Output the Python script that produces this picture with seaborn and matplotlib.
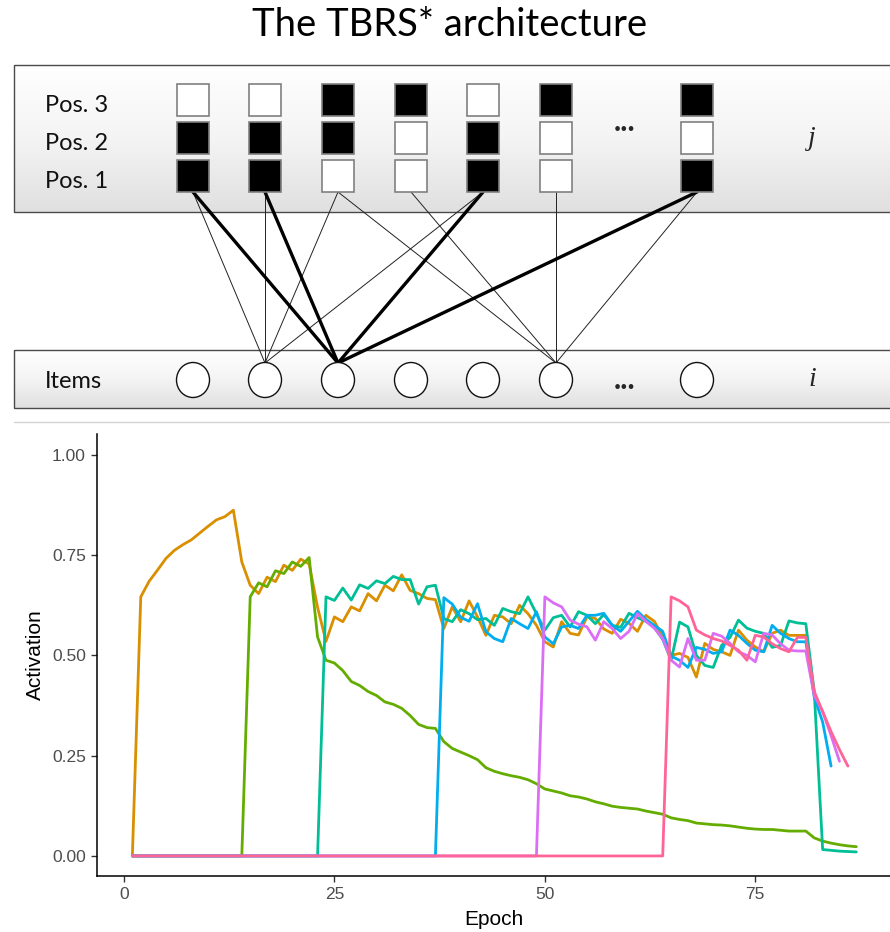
import numpy as np
import pandas as pd
import matplotlib
matplotlib.use("Agg")
import matplotlib.pyplot as plt
import seaborn as sns
from matplotlib.patches import Rectangle, Ellipse
from matplotlib.colors import LinearSegmentedColormap

# ---------------- data ----------------
epochs = list(range(1, 88))

item1 = [0.000, 0.646, 0.685, 0.713, 0.742, 0.762, 0.776, 0.788, 0.805, 0.822,
         0.838, 0.846, 0.862, 0.733, 0.675, 0.654, 0.695, 0.684, 0.725, 0.712,
         0.740, 0.728, 0.620, 0.535, 0.596, 0.584, 0.621, 0.611, 0.654, 0.636,
         0.675, 0.661, 0.701, 0.662, 0.654, 0.642, 0.639, 0.567, 0.621, 0.584,
         0.636, 0.596, 0.550, 0.600, 0.596, 0.579, 0.625, 0.604, 0.575, 0.534,
         0.521, 0.584, 0.555, 0.551, 0.596, 0.592, 0.566, 0.555, 0.590, 0.580,
         0.560, 0.600, 0.585, 0.548, 0.500, 0.505, 0.495, 0.446, 0.530, 0.515,
         0.509, 0.500, 0.563, 0.538, 0.521, 0.509, 0.555, 0.563, 0.550, 0.550,
         0.550, 0.405]

item2 = [0, 0, 0, 0, 0, 0, 0, 0, 0, 0, 0, 0, 0, 0,
         0.646, 0.681, 0.671, 0.711, 0.704, 0.733, 0.722, 0.744, 0.546, 0.488,
         0.481, 0.462, 0.435, 0.425, 0.410, 0.400, 0.384, 0.378, 0.368, 0.350,
         0.328, 0.320, 0.318, 0.285, 0.268, 0.259, 0.250, 0.240, 0.220, 0.211,
         0.205, 0.200, 0.196, 0.190, 0.180, 0.167, 0.162, 0.157, 0.150, 0.147,
         0.142, 0.135, 0.130, 0.124, 0.121, 0.119, 0.117, 0.112, 0.108, 0.104,
         0.095, 0.091, 0.088, 0.082, 0.080, 0.078, 0.077, 0.075, 0.072, 0.069,
         0.067, 0.066, 0.066, 0.064, 0.062, 0.062, 0.062, 0.045, 0.037, 0.032,
         0.028, 0.025, 0.023]

item3 = [0, 0, 0, 0, 0, 0, 0, 0, 0, 0, 0, 0, 0, 0, 0, 0, 0, 0, 0, 0, 0, 0, 0,
         0.646, 0.637, 0.668, 0.638, 0.676, 0.667, 0.686, 0.679, 0.697, 0.689,
         0.689, 0.628, 0.671, 0.675, 0.592, 0.584, 0.614, 0.604, 0.589, 0.592,
         0.575, 0.617, 0.609, 0.604, 0.646, 0.604, 0.563, 0.594, 0.600, 0.571,
         0.609, 0.600, 0.579, 0.602, 0.575, 0.570, 0.605, 0.594, 0.585, 0.570,
         0.540, 0.488, 0.583, 0.571, 0.500, 0.475, 0.470, 0.525, 0.545, 0.588,
         0.568, 0.560, 0.555, 0.520, 0.525, 0.586, 0.581, 0.579, 0.410, 0.016,
         0.014, 0.012, 0.011, 0.010]

item4 = [0, 0, 0, 0, 0, 0, 0, 0, 0, 0, 0, 0, 0, 0, 0, 0, 0, 0, 0, 0,
         0, 0, 0, 0, 0, 0, 0, 0, 0, 0, 0, 0, 0, 0, 0, 0, 0,
         0.644, 0.628, 0.595, 0.585, 0.629, 0.559, 0.542, 0.534, 0.592, 0.579,
         0.567, 0.609, 0.546, 0.529, 0.571, 0.575, 0.567, 0.600, 0.600, 0.605,
         0.575, 0.560, 0.585, 0.610, 0.590, 0.575, 0.560, 0.498, 0.488, 0.470,
         0.520, 0.515, 0.505, 0.509, 0.563, 0.550, 0.530, 0.513, 0.509, 0.575,
         0.555, 0.542, 0.534, 0.534, 0.396, 0.334, 0.224]

item5 = [0, 0, 0, 0, 0, 0, 0, 0, 0, 0, 0, 0, 0, 0, 0, 0, 0, 0, 0, 0,
         0, 0, 0, 0, 0, 0, 0, 0, 0, 0, 0, 0, 0, 0, 0, 0, 0, 0, 0, 0,
         0, 0, 0, 0, 0, 0, 0, 0, 0,
         0.646, 0.631, 0.621, 0.588, 0.578, 0.571, 0.538, 0.584, 0.567, 0.542,
         0.560, 0.604, 0.585, 0.568, 0.542, 0.488, 0.471, 0.542, 0.488, 0.488,
         0.555, 0.548, 0.530, 0.509, 0.500, 0.484, 0.555, 0.551, 0.529, 0.513,
         0.511, 0.511, 0.400, 0.360, 0.300, 0.236]

item6 = [0, 0, 0, 0, 0, 0, 0, 0, 0, 0, 0, 0, 0, 0, 0, 0, 0, 0, 0, 0,
         0, 0, 0, 0, 0, 0, 0, 0, 0, 0, 0, 0, 0, 0, 0, 0, 0, 0, 0, 0,
         0, 0, 0, 0, 0, 0, 0, 0, 0, 0, 0, 0, 0, 0, 0, 0, 0, 0, 0, 0,
         0, 0, 0, 0,
         0.646, 0.636, 0.621, 0.563, 0.551, 0.542, 0.536, 0.525, 0.513, 0.488,
         0.550, 0.546, 0.529, 0.517, 0.509, 0.545, 0.545, 0.410, 0.360, 0.310,
         0.265, 0.224]

series_names = ["1", "2", "3", "4", "5", "6"]
series_values = [item1, item2, item3, item4, item5, item6]
series_colors = ["#D98F00", "#64AD00", "#00BE96", "#00AEEF", "#DC6EF5", "#FF6496"]

x_ticks = [0, 25, 50, 75]
y_ticks = [0.00, 0.25, 0.50, 0.75, 1.00]

# diagram content
pos_labels = ["Pos. 3", "Pos. 2", "Pos. 1"]
pattern = [[0, 0, 1, 1, 0, 1, 1],   # Pos. 3
           [1, 1, 1, 0, 1, 0, 0],   # Pos. 2
           [1, 1, 0, 0, 1, 0, 1]]   # Pos. 1
thick_links = [(0, 2), (1, 2), (4, 2), (6, 2)]
thin_links = [(0, 1), (1, 1), (2, 1), (4, 1), (2, 5), (3, 5), (5, 5), (6, 5)]

# ---------------- frame ----------------
rows = []
for name, vals in zip(series_names, series_values):
    for e, v in zip(epochs, vals):
        rows.append({"Epoch": e, "Activation": v, "item": name})
df = pd.DataFrame(rows)

sns.set_style("ticks")
plt.rcParams["font.family"] = ["Liberation Sans", "DejaVu Sans"]

W, H = 890, 932
fig = plt.figure(figsize=(W / 100, H / 100), dpi=100)

# ---------------- diagram (pixel space) ----------------
dax = fig.add_axes([0, 0, 1, 1], zorder=0)
grad_cmap = LinearSegmentedColormap.from_list("g", ["#ffffff", "#f4f4f4", "#e0e0e0"])


def grad_box(x0, y0, x1, y1):
    g = np.linspace(0, 1, 200).reshape(-1, 1)
    dax.imshow(g, extent=(x0, x1, y1, y0), cmap=grad_cmap, aspect="auto",
               interpolation="bilinear", zorder=1)
    dax.add_patch(Rectangle((x0, y0), x1 - x0, y1 - y0, fill=False,
                            ec="#4a4a4a", lw=1.0, zorder=2))


grad_box(14, 65, 900, 212)
grad_box(14, 350, 900, 408)
dax.plot([14, 890], [422, 422], color="#d4d4d4", lw=1.0, zorder=2)

col_x = [193, 265, 338, 411, 483, 556, 697]
row_top = [84, 122, 160]
sq_w, sq_h = 32, 32
circ_y = 380

for (ci, ki) in thin_links:
    dax.plot([col_x[ci], col_x[ki]], [192, 363], color="#222222", lw=0.7,
             zorder=3, solid_capstyle="round")
for (ci, ki) in thick_links:
    dax.plot([col_x[ci], col_x[ki]], [192, 363], color="#000000", lw=2.4,
             zorder=3, solid_capstyle="round")

for r, (lab, prow) in enumerate(zip(pos_labels, pattern)):
    dax.text(45, row_top[r] + 28, lab, fontsize=17, family="Lato",
             va="baseline", ha="left", color="#111111", zorder=5)
    for c, filled in enumerate(prow):
        dax.add_patch(Rectangle((col_x[c] - sq_w / 2, row_top[r]), sq_w, sq_h,
                                fc="#000000" if filled else "#ffffff",
                                ec="#808080", lw=1.2, zorder=4))

for cx in col_x:
    dax.add_patch(Ellipse((cx, circ_y), 33, 35, fc="#ffffff", ec="#111111",
                          lw=1.0, zorder=4))

dax.text(625, 131, "...", fontsize=22, family="Lato", fontweight="bold",
         ha="center", va="baseline", zorder=5)
dax.text(625, 389, "...", fontsize=22, family="Lato", fontweight="bold",
         ha="center", va="baseline", zorder=5)
dax.text(45, 388, "Items", fontsize=17, family="Lato", ha="left",
         va="baseline", color="#111111", zorder=5)
dax.text(812, 145, "j", fontsize=20, family="Liberation Serif", style="italic",
         ha="center", va="baseline", zorder=5)
dax.text(812, 386, "i", fontsize=20, family="Liberation Serif", style="italic",
         ha="center", va="baseline", zorder=5)
dax.text(450, 36, "The TBRS* architecture", fontsize=27.5, family="Lato",
         ha="center", va="baseline", color="#000000", zorder=5)

dax.set_xlim(0, W)
dax.set_ylim(H, 0)
dax.axis("off")

# ---------------- line chart ----------------
ax = fig.add_axes([97 / W, 1 - 876 / H, (W - 97) / W, (876 - 434) / H], zorder=1)
sns.lineplot(data=df, x="Epoch", y="Activation", hue="item",
             hue_order=series_names, palette=series_colors, estimator=None,
             sort=False, legend=False, linewidth=2.0, ax=ax)

ax.set_xlim(-3.2, 91.0)
ax.set_ylim(-0.05, 1.052)
ax.set_xticks(x_ticks)
ax.set_xticklabels([str(t) for t in x_ticks])
ax.set_yticks(y_ticks)
ax.set_yticklabels([f"{t:.2f}" for t in y_ticks])
sns.despine(ax=ax)
for s in ["left", "bottom"]:
    ax.spines[s].set_color("#000000")
    ax.spines[s].set_linewidth(1.1)
ax.tick_params(axis="both", length=4, width=1.0, color="#333333",
               labelsize=12.5, labelcolor="#4D4D4D", pad=4)
ax.set_xlabel("Epoch", fontsize=15, color="#000000", labelpad=6)
ax.set_ylabel("Activation", fontsize=15, color="#000000", labelpad=5)
ax.grid(False)

fig.savefig("out.png", dpi=100)
